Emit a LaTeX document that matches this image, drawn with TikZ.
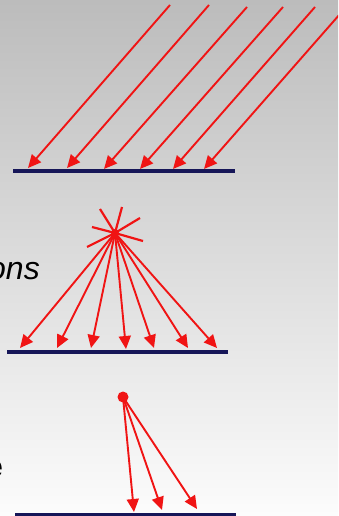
\documentclass[tikz,border=0pt]{standalone}
\usepackage{fontspec}
\setmainfont{Liberation Sans}
\usetikzlibrary{arrows.meta}
\definecolor{ray}{RGB}{240,20,20}
\definecolor{surf}{RGB}{22,22,88}
\definecolor{bgtop}{RGB}{188,188,188}
\definecolor{bgbot}{RGB}{252,252,252}
\tikzset{
  rayarrow/.style={draw=ray, line width=1.9pt, -{Triangle[length=13pt,width=12pt]}},
  spoke/.style={draw=ray, line width=2.2pt},
  surface/.style={draw=surf, line width=4pt},
  srcdot/.style={circle, fill=ray, inner sep=0pt, minimum size=11pt},
  lbl/.style={inner sep=0pt, font=\fontsize{32}{38}\selectfont}
}
\begin{document}
\begin{tikzpicture}[x=1pt,y=-1pt]
\useasboundingbox (0,0) rectangle (338,516);
\clip (0,0) rectangle (338,516);
\shade[top color=bgtop, bottom color=bgbot] (0,0) rectangle (338,516);

% --- top panel: parallel rays
\coordinate (tl) at (13,171); \coordinate (tr) at (235,171);
\draw[surface] (tl) -- (tr);
\foreach \i/\sx/\sy/\ex/\ey in {1/170/5/28/168, 2/209/5/67/168, 3/247/7/104/169, 4/283/7/140/169, 5/315/7/173/169, 6/347/6/204/169}{
  \coordinate (ts\i) at (\sx,\sy);
  \coordinate (te\i) at (\ex,\ey);
  \draw[rayarrow] (ts\i) -- (te\i);
}

% --- middle panel: point source nearby
\node[lbl, font=\fontsize{32}{38}\selectfont\itshape, anchor=base east] (ons) at (40,279) {ons};
\coordinate (ml) at (7,352); \coordinate (mr) at (228,352);
\draw[surface] (ml) -- (mr);
\coordinate (ms) at (115,233);
\foreach \i/\x/\y in {1/100/209, 2/122/207, 3/140/218, 4/92/227, 5/143/241, 6/87/247}{
  \coordinate (sp\i) at (\x,\y);
  \draw[spoke] (ms) -- (sp\i);
}
\foreach \i/\x/\y in {1/20/348, 2/57/348, 3/91/348, 4/126/349, 5/154/348, 6/188/348, 7/217/348}{
  \coordinate (me\i) at (\x,\y);
  \draw[rayarrow] (ms) -- (me\i);
}
\fill[ray] (ms) circle (4pt);

% --- bottom panel: point source
\node[lbl, font=\fontsize{32}{38}\selectfont\bfseries, anchor=base east] (e) at (3,477) {e};
\coordinate (bl) at (15,515); \coordinate (br) at (236,515);
\draw[surface] (bl) -- (br);
\node[srcdot] (bs) at (123,397) {};
\foreach \i/\x/\y in {1/134/512, 2/162/510, 3/197/509}{
  \coordinate (be\i) at (\x,\y);
  \draw[rayarrow] (bs.center) -- (be\i);
}
\end{tikzpicture}
\end{document}
